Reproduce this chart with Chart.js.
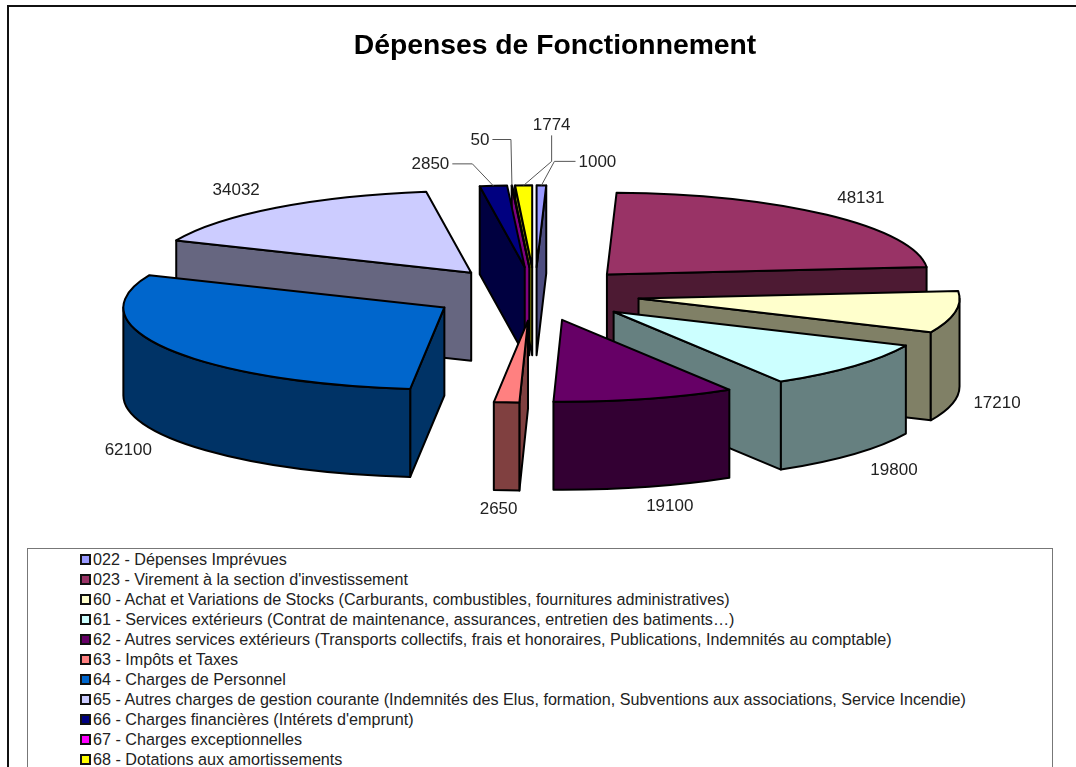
<!DOCTYPE html>
<html lang="fr">
<head>
<meta charset="utf-8">
<title>Dépenses de Fonctionnement</title>
<script src="https://cdn.jsdelivr.net/npm/chart.js@4/dist/chart.umd.js"></script>
<style>
    html, body { margin: 0; background: #fff; overflow: hidden; width: 1076px; height: 767px; }
    #frame { position: absolute; left: 7px; top: 5px; width: 1200px; height: 900px; border: 2px solid #111; }
    #wrap { position: absolute; left: 0; top: 0; width: 1110px; height: 767px; }
    #legend {
        position: absolute; left: 27px; top: 548px; width: 1026px; height: 300px;
        border: 1px solid #777; background: #fff; box-sizing: border-box;
        padding: 0 0 0 52px; color: #222;
        font: 16.15px "Liberation Sans", Arial, sans-serif;
    }
    #legend div { height: 20px; line-height: 20px; white-space: nowrap; }
    #legend i {
        display: inline-block; width: 7px; height: 7px; margin-right: 2px;
        border: 2px solid #111; vertical-align: 0;
    }
</style>
</head>
<body>
<div id="frame"></div>
<div id="wrap"><canvas id="chart"></canvas></div>
<div id="legend"></div>
<script>
'use strict';

const categories = [
    '022 - Dépenses Imprévues',
    '023 - Virement à la section d\'investissement',
    '60 - Achat et Variations de Stocks (Carburants, combustibles, fournitures administratives)',
    '61 - Services extérieurs (Contrat de maintenance, assurances, entretien des batiments…)',
    '62 - Autres services extérieurs (Transports collectifs, frais et honoraires, Publications, Indemnités au comptable)',
    '63 - Impôts et Taxes',
    '64 - Charges de Personnel',
    '65 - Autres charges de gestion courante (Indemnités des Elus, formation, Subventions aux associations, Service Incendie)',
    '66 - Charges financières (Intérets d\'emprunt)',
    '67 - Charges exceptionnelles',
    '68 - Dotations aux amortissements'
];

const amounts = [ 1000, 48131, 17210, 19800, 19100, 2650, 62100, 34032, 2850, 50, 1774 ];

const colors = [
    '#9999ff', '#993366', '#ffffcc', '#ccffff', '#660066', '#ff8080',
    '#0066cc', '#ccccff', '#000080', '#ff00ff', '#ffff00'
];

// where each value label sits, relative to the middle of its slice's rim
const labelShift = [
    [56, -23], [34, -17], [42, 91], [40, 104], [25, 107], [-8, 107],
    [-39, 101], [-40, -17], [-63, -22], [-32, -45], [28, -60]
];

// bend of the leader line for the thin slices
const leaderBend = [
    [13, -24], null, null, null, null, null,
    null, null, [-21, -22], [-1, -46], [28, -24]
];

const RADIUS = 321;
const EXPLODE = 105;
const SQUASH = 0.255;
const DEPTH = 88;
const PIE_SHIFT_X = -20;

function halfColor(hex) {
    const n = parseInt(hex.slice(1), 16);
    return 'rgb(' + (n >> 16 & 255) / 2 + ',' + (n >> 8 & 255) / 2 + ',' + (n & 255) / 2 + ')';
}

// centre of the slice's top face once pulled out and flattened
function sliceCentre(arc) {
    const mid = (arc.startAngle + arc.endAngle) / 2;
    return {
        x: arc.x + PIE_SHIFT_X + Math.cos(mid) * EXPLODE,
        y: arc.y + Math.sin(mid) * EXPLODE * SQUASH
    };
}

function rimPoint(arc, angle) {
    const c = sliceCentre(arc);
    return {
        x: c.x + Math.cos(angle) * arc.outerRadius,
        y: c.y + Math.sin(angle) * arc.outerRadius * SQUASH
    };
}

function paintFace(ctx, fill) {
    ctx.closePath();
    ctx.fillStyle = fill;
    ctx.fill();
    ctx.stroke();
}

function drawRadialWall(ctx, arc, angle, fill) {
    const c = sliceCentre(arc);
    const p = rimPoint(arc, angle);
    ctx.beginPath();
    ctx.moveTo(c.x, c.y);
    ctx.lineTo(p.x, p.y);
    ctx.lineTo(p.x, p.y + DEPTH);
    ctx.lineTo(c.x, c.y + DEPTH);
    paintFace(ctx, fill);
}

function drawOuterWall(ctx, arc, fill) {
    // only the part of the rim turned to the viewer, 0..PI in canvas angles
    const from = Math.max(arc.startAngle, 0);
    const to = Math.min(arc.endAngle, Math.PI);
    if (to <= from) {
        return;
    }
    const c = sliceCentre(arc);
    const rx = arc.outerRadius;
    const ry = arc.outerRadius * SQUASH;
    ctx.beginPath();
    ctx.ellipse(c.x, c.y, rx, ry, 0, from, to);
    ctx.ellipse(c.x, c.y + DEPTH, rx, ry, 0, to, from, true);
    paintFace(ctx, fill);
}

function drawSlice(ctx, arc, color) {
    const wall = halfColor(color);
    const c = sliceCentre(arc);
    ctx.strokeStyle = '#000';
    ctx.lineWidth = 2;
    ctx.lineJoin = 'round';

    if (Math.cos(arc.startAngle) < 0) {
        drawRadialWall(ctx, arc, arc.startAngle, wall);
    }
    if (Math.cos(arc.endAngle) > 0) {
        drawRadialWall(ctx, arc, arc.endAngle, wall);
    }
    drawOuterWall(ctx, arc, wall);

    // top face comes from the library's own arc element
    ctx.save();
    ctx.translate(c.x, c.y);
    ctx.scale(1, SQUASH);
    ctx.translate(-arc.x, -arc.y);
    arc.draw(ctx);
    ctx.restore();

    ctx.beginPath();
    ctx.moveTo(c.x, c.y);
    ctx.ellipse(c.x, c.y, arc.outerRadius, arc.outerRadius * SQUASH, 0, arc.startAngle, arc.endAngle);
    ctx.closePath();
    ctx.stroke();
}

const pie3d = {
    id: 'pie3d',
    beforeDatasetsDraw(chart) {
        const ctx = chart.ctx;
        const arcs = chart.getDatasetMeta(0).data;
        const order = arcs.map((arc, i) => i).sort(function(a, b) {
            return sliceCentre(arcs[a]).y - sliceCentre(arcs[b]).y;
        });
        order.forEach(function(i) {
            drawSlice(ctx, arcs[i], colors[i]);
        });
        return false;
    },
    afterDraw(chart) {
        const ctx = chart.ctx;
        const arcs = chart.getDatasetMeta(0).data;
        ctx.save();
        ctx.font = '17px "Liberation Sans", Arial, sans-serif';
        ctx.textAlign = 'center';
        ctx.textBaseline = 'middle';
        arcs.forEach(function(arc, i) {
            const rim = rimPoint(arc, (arc.startAngle + arc.endAngle) / 2);
            const x = rim.x + labelShift[i][0];
            const y = rim.y + labelShift[i][1];
            ctx.fillStyle = '#222';
            ctx.fillText(String(amounts[i]), x, y);

            if (leaderBend[i]) {
                const bx = rim.x + leaderBend[i][0];
                const by = rim.y + leaderBend[i][1];
                const half = ctx.measureText(String(amounts[i])).width / 2 + 3;
                ctx.strokeStyle = '#555';
                ctx.lineWidth = 1;
                ctx.beginPath();
                if (Math.abs(bx - x) > Math.abs(by - y)) {
                    ctx.moveTo(x + (bx > x ? half : -half), by);
                } else {
                    ctx.moveTo(bx, y + 10);
                }
                ctx.lineTo(bx, by);
                ctx.lineTo(rim.x, rim.y);
                ctx.stroke();
            }
        });
        ctx.restore();
    }
};

document.getElementById('legend').innerHTML = categories.map(function(name, i) {
    return '<div><i style="background:' + colors[i] + '"></i>' + name + '</div>';
}).join('');

new Chart(document.getElementById('chart'), {
    type: 'pie',
    data: {
        labels: categories,
        datasets: [{
            data: amounts,
            backgroundColor: colors,
            borderWidth: 0
        }]
    },
    options: {
        responsive: true,
        maintainAspectRatio: false,
        animation: false,
        radius: RADIUS,
        layout: { padding: { bottom: 251 } },
        plugins: {
            legend: { display: false },
            tooltip: { enabled: false },
            title: {
                display: true,
                text: 'Dépenses de Fonctionnement',
                color: '#000',
                font: { family: '"Liberation Sans", Arial, sans-serif', size: 28.3, weight: 'bold' },
                padding: { top: 29, bottom: 9 }
            }
        }
    },
    plugins: [pie3d]
});
</script>
</body>
</html>
